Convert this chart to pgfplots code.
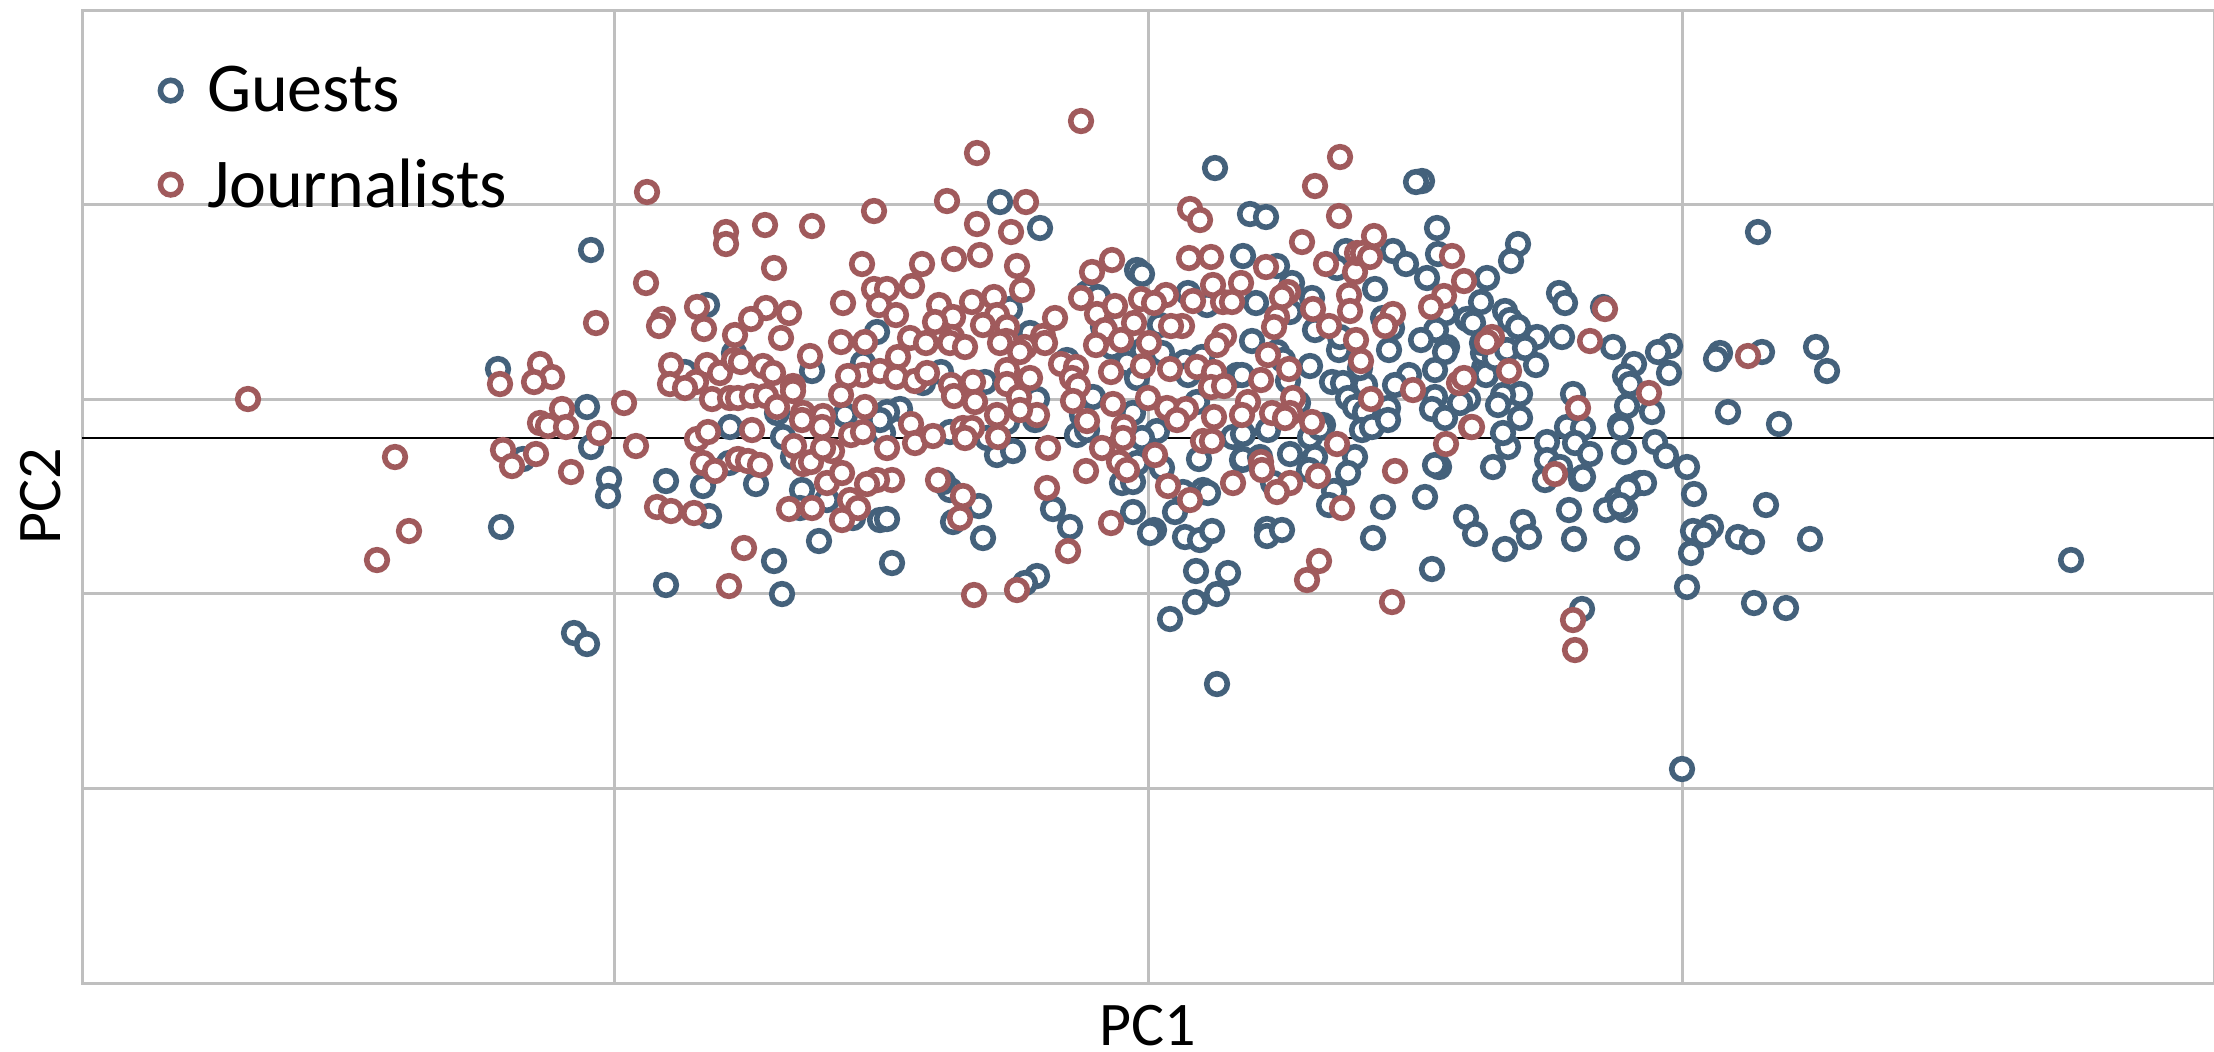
\documentclass[border=0pt]{standalone}
\usepackage{pgfplots}
\pgfplotsset{compat=1.18}
\usepackage{fontspec}
\setmainfont{Carlito}
\definecolor{gblue}{RGB}{68,97,123}
\definecolor{jred}{RGB}{160,90,92}
\definecolor{gridg}{RGB}{191,191,191}
\begin{document}
\begin{tikzpicture}
\path[use as bounding box] (-41pt,-34pt) rectangle (1066pt,491.5pt);
\begin{axis}[
  scale only axis, width=1066pt, height=486.5pt,
  xmin=82, xmax=2214, ymin=10, ymax=983, y dir=reverse,
  xtick={614,1148,1682}, ytick={204,399,593,788},
  xticklabels={}, yticklabels={},
  major tick length=0pt,
  grid=major, major grid style={gridg, line width=1.5pt},
  axis line style={gridg, line width=1.5pt},
  axis on top=false,
  xlabel={\fontsize{31}{31}\selectfont PC1},
  ylabel={\fontsize{31}{31}\selectfont PC2},
  xlabel style={at={(axis description cs:0.5,0)}, anchor=base, yshift=-31pt, inner sep=0pt},
  ylabel style={at={(axis description cs:0,0.5)}, anchor=base, yshift=11pt},
  legend style={at={(axis cs:160,62)}, anchor=north west, draw=none, fill=none,
    font=\fontsize{35}{35}\selectfont, row sep=18pt, inner sep=0pt,
    nodes={inner sep=2pt}, /tikz/column 1/.style={column sep=11pt}},
  legend cell align=left,
  clip=false,
]
\addplot[black, line width=1.2pt, forget plot] coordinates {(82,438)(2214,438)};
\addplot[only marks, mark=*, mark size=5.15pt, mark options={draw=gblue, fill=white, line width=2.8pt}] table {
498 369
591 250
587 407
707 305
685 372
734 353
812 371
730 427
777 413
591 447
523 459
609 479
608 496
501 527
666 481
703 486
709 516
783 437
729 463
793 457
756 484
802 490
827 500
800 508
819 541
774 561
666 585
782 594
574 633
587 644
1000 202
1040 228
1215 168
1137 270
1142 274
1188 293
1207 305
1087 293
1098 297
1010 309
1030 333
877 332
863 363
941 372
923 383
985 382
1037 399
900 409
887 412
845 415
1103 327
1160 325
1112 347
1127 363
1143 350
1162 353
1185 362
1202 357
1237 375
1188 375
1137 378
1093 397
1197 402
1133 413
1082 415
1067 360
880 520
887 519
853 518
892 563
950 490
943 482
953 522
979 506
983 538
997 455
1013 451
987 438
1053 509
1070 527
1037 576
1025 583
1077 435
1087 430
1133 512
1122 483
1133 482
1137 463
1162 468
1154 530
1150 533
1175 512
1185 537
1200 540
1212 531
1196 571
1228 573
1217 594
1195 602
1170 619
1217 684
1199 459
1183 492
1203 490
1208 493
1233 437
1242 460
1157 431
1142 438
883 433
950 432
880 420
1035 420
1007 422
1422 181
1416 182
1250 214
1266 217
1243 256
1277 266
1346 251
1337 268
1393 251
1406 264
1427 278
1437 228
1438 254
1518 244
1511 261
1487 278
1481 302
1505 311
1510 320
1518 327
1537 337
1562 337
1613 347
1559 293
1565 303
1603 307
1634 364
1625 376
1630 384
1627 406
1467 319
1473 323
1446 313
1436 330
1421 340
1447 347
1445 352
1389 350
1392 328
1375 289
1383 318
1312 298
1292 283
1256 303
1290 312
1315 330
1252 341
1339 350
1340 337
1277 352
1283 360
1310 366
1242 375
1288 381
1332 382
1343 383
1365 385
1360 368
1409 375
1395 385
1435 370
1484 368
1486 375
1483 353
1495 358
1507 350
1525 348
1536 365
1482 343
1520 394
1503 395
1498 405
1573 394
1468 399
1460 403
1435 397
1432 409
1388 408
1348 398
1355 407
1365 412
1520 418
1567 427
1298 403
1620 425
1323 425
1445 418
1310 437
1268 430
1243 434
1243 459
1260 457
1290 454
1315 457
1320 428
1362 430
1372 427
1355 457
1348 473
1309 470
1334 491
1329 505
1383 507
1373 538
1425 497
1439 467
1435 465
1493 467
1508 447
1503 433
1547 442
1547 460
1545 480
1560 467
1583 428
1575 443
1590 454
1581 479
1583 477
1621 428
1624 452
1630 487
1617 500
1606 510
1625 510
1640 483
1569 510
1574 539
1627 548
1523 522
1529 537
1505 549
1466 517
1475 534
1432 569
1582 609
1267 529
1267 536
1282 530
1388 420
1273 483
1758 232
1720 353
1716 359
1762 352
1816 347
1827 371
1728 412
1779 424
1670 346
1658 352
1669 373
1652 412
1655 442
1666 456
1687 467
1694 494
1644 483
1628 489
1620 505
1766 505
1693 531
1711 527
1704 535
1738 537
1752 542
1810 539
1691 553
1687 587
1754 603
1786 608
2071 560
1682 769
};
\addlegendentry{Guests}
\addplot[only marks, mark=*, mark size=5.15pt, mark options={draw=jred, fill=white, line width=2.8pt}] table {
647 192
726 232
726 244
765 225
812 226
774 268
646 283
596 323
663 319
659 326
697 307
704 329
766 308
751 319
789 313
735 335
781 338
671 365
670 384
707 365
720 373
734 360
741 362
763 366
773 373
810 356
696 382
685 388
712 399
730 398
738 398
752 396
766 396
793 386
793 391
777 407
803 413
823 416
540 364
552 377
534 382
500 384
562 409
624 403
540 423
548 426
566 427
599 433
636 446
503 450
536 454
512 466
571 472
657 507
671 511
694 513
744 548
729 586
697 439
708 432
752 430
703 463
715 471
738 459
748 461
760 465
794 446
803 464
811 462
832 451
823 448
827 483
789 509
812 508
822 427
802 420
977 153
874 211
947 201
1026 202
977 224
1011 232
862 264
922 264
954 259
980 255
1017 266
1081 121
1190 209
1200 220
1189 258
1211 257
1112 260
1092 272
1081 298
1022 290
912 286
874 289
887 289
879 305
896 315
843 303
939 305
972 302
994 297
997 315
953 317
935 322
983 325
1007 327
1055 318
1097 314
1115 306
1141 299
1166 295
1154 303
1193 301
1213 285
1223 302
1232 302
1182 326
1171 326
1134 323
1105 330
1121 340
1149 343
1096 345
1224 336
1217 345
865 342
841 342
910 338
926 343
952 337
950 343
965 347
1006 341
1000 343
1025 347
1043 336
1045 343
1020 352
898 357
1061 364
1076 367
1072 378
1078 386
1073 401
1143 366
1111 372
1170 369
1197 367
1214 372
1211 387
1224 386
1148 398
1113 404
1167 408
1186 409
1214 417
1007 370
1030 378
1007 384
973 382
951 385
954 396
975 402
1019 397
1037 415
997 415
865 407
863 375
848 376
880 371
896 377
915 381
927 373
841 395
911 424
1087 421
963 428
1124 427
851 435
863 432
887 448
915 443
933 436
972 428
965 438
998 437
1020 410
1048 448
1086 471
1102 448
1123 438
1119 462
1127 470
1155 455
1177 420
1203 441
1212 441
1233 483
1168 486
1190 500
1111 523
1047 488
938 480
963 496
960 518
1068 551
1017 590
974 595
892 480
877 480
867 484
842 473
850 500
858 508
842 520
1340 157
1315 186
1339 216
1302 242
1374 236
1326 264
1266 267
1355 272
1357 253
1363 253
1370 257
1452 256
1464 281
1444 296
1431 307
1605 309
1590 341
1349 295
1350 311
1313 309
1329 326
1288 292
1282 297
1277 317
1274 327
1393 314
1385 326
1356 340
1361 361
1268 355
1289 369
1261 380
1293 398
1248 402
1272 413
1290 413
1312 422
1242 415
1371 399
1413 390
1459 383
1464 378
1492 337
1487 342
1509 371
1578 408
1471 427
1241 283
1337 444
1261 462
1262 470
1290 483
1277 492
1318 476
1342 508
1395 471
1446 444
1472 427
1555 474
1319 561
1307 580
1392 602
1573 620
1575 650
1285 418
248 399
395 457
409 531
377 560
1649 393
1748 356
};
\addlegendentry{Journalists}
\end{axis}
\end{tikzpicture}
\end{document}
